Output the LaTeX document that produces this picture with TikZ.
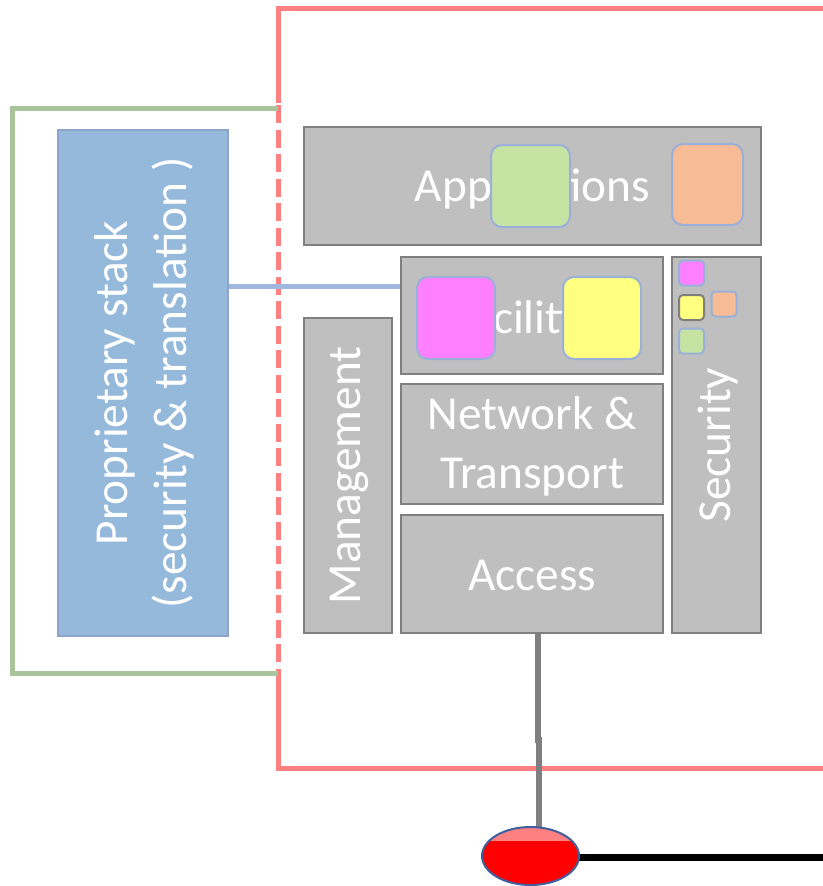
\documentclass[tikz,border=0pt]{standalone}
\usepackage{fontspec}
\setmainfont{Carlito}
\usetikzlibrary{shapes.geometric}
\definecolor{boxred}{HTML}{FF8080}
\definecolor{boxgreen}{HTML}{A9C49A}
\definecolor{propblue}{HTML}{95B9DB}
\definecolor{propedge}{HTML}{8EA4CB}
\definecolor{linkblue}{HTML}{A0B8E0}
\definecolor{layerfill}{HTML}{BFBFBF}
\definecolor{layeredge}{HTML}{7F7F7F}
\definecolor{tagedge}{HTML}{9AB0D8}
\definecolor{taggreen}{HTML}{C6E3A4}
\definecolor{tagorange}{HTML}{F7BC96}
\definecolor{tagmagenta}{HTML}{FF80FF}
\definecolor{tagyellow}{HTML}{FFFF80}
\definecolor{ovaledge}{HTML}{3F5F9F}
\tikzset{
  lbl/.style={text=white, font=\fontsize{47.5}{59}\selectfont, align=center},
  layer/.style={draw=layeredge, fill=layerfill, line width=2.5bp, rectangle, inner sep=0pt},
  tag/.style={draw=tagedge, line width=2bp, rounded corners=11bp, inner sep=0pt},
  smalltag/.style={draw=tagedge, line width=2bp, rounded corners=4bp, inner sep=0pt,
    minimum width=25bp, minimum height=25bp},
}
\begin{document}
\begin{tikzpicture}[x=1bp, y=-1bp]
\useasboundingbox (0,0) rectangle (823,886);

% station frame (open to the right)
\draw[boxred, line width=5bp] (278,103) -- (278,8) -- (823,8);
\draw[boxred, line width=5bp, dash pattern=on 18bp off 6.5bp] (278,105) -- (278,672);
\draw[boxred, line width=5bp] (278,670) -- (278,768) -- (823,768);

% proprietary part frame
\draw[boxgreen, line width=5bp] (278,108) -- (12,108) -- (12,673) -- (278,673);

% proprietary stack
\node[draw=propedge, fill=propblue, line width=1.5bp, inner sep=0pt,
  minimum width=170bp, minimum height=506bp] (prop) at (143,383) {};
\node[lbl, rotate=90] at ([xshift=1.5bp]prop.center) {Proprietary stack\\(security \& translation )};

% layered architecture
\node[layer, minimum width=457bp, minimum height=118bp] (apps) at (532.5,186) {};
\node[lbl] at ([yshift=-2.5bp]apps.center) {Applications};
\node[layer, minimum width=262bp, minimum height=117bp] (fac) at (532,315.5) {};
\node[lbl] at ([yshift=-1.5bp]fac.center) {Facilities};
\node[layer, minimum width=262bp, minimum height=120bp] (net) at (532,444) {};
\node[lbl] at ([yshift=-2bp]net.center) {Network \&\\Transport};
\node[layer, minimum width=262bp, minimum height=118bp] (acc) at (532,574) {};
\node[lbl] at ([yshift=-1bp]acc.center) {Access};
\node[layer, minimum width=88bp, minimum height=315bp] (mgmt) at (348,475.5) {};
\node[lbl, rotate=90] at ([xshift=1bp]mgmt.center) {Management};
\node[layer, minimum width=89bp, minimum height=376bp] (sec) at (716.5,445) {};
\node[lbl, rotate=90] at ([xshift=2bp]sec.center) {Security};

% application tags
\node[tag, fill=taggreen, minimum width=79bp, minimum height=82bp] (tg) at (530.5,186) {};
\node[tag, fill=tagorange, minimum width=71bp, minimum height=81bp] (to) at (707.5,184.5) {};
% facility tags
\node[tag, fill=tagmagenta, minimum width=78bp, minimum height=82bp] (tm) at (456,318) {};
\node[tag, fill=tagyellow, minimum width=78bp, minimum height=82bp] (ty) at (602,318) {};
% security tags
\node[smalltag, fill=tagmagenta] (sm) at (691.5,273) {};
\node[smalltag, fill=tagyellow, draw=layeredge] (sy) at (691.5,307.5) {};
\node[smalltag, fill=tagorange] (so) at (724,304) {};
\node[smalltag, fill=taggreen] (sg) at (691.5,341) {};

% link between proprietary stack and facilities
\draw[linkblue, line width=5bp] (prop.east |- 0,286) -- (fac.west |- 0,286);

% antenna / medium
\node[ellipse, minimum width=97bp, minimum height=58bp, inner sep=0pt] (ant) at (530.5,856) {};
\coordinate (wire) at (823,857);
\draw[layeredge, line width=6bp] (acc.south -| 537.5,0) -- (537.5,743);
\draw[layeredge, line width=6bp] (538.5,737) -- (ant.north -| 538.5,0);
\draw[black, line width=7bp] (ant.east |- wire) -- (wire);
\begin{scope}
  \clip (530.5,856) ellipse [x radius=48.5, y radius=29];
  \fill[red] (470,800) rectangle (590,900);
  \fill[boxred] (470,800) rectangle (590,841);
\end{scope}
\draw[ovaledge, line width=2bp] (530.5,856) ellipse [x radius=48.5, y radius=29];
\end{tikzpicture}
\end{document}
